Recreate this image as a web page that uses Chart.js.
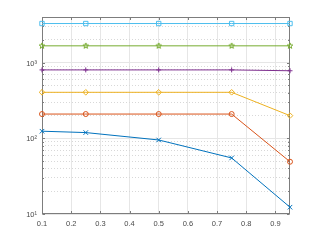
<!DOCTYPE html>
<html>
<head>
<meta charset="utf-8">
<script src="https://cdn.jsdelivr.net/npm/chart.js@4.4.1/dist/chart.umd.min.js"></script>
<style>
  html, body { margin: 0; padding: 0; background: #fff; overflow: hidden; }
  canvas { display: block; }
</style>
</head>
<body>
<canvas id="chart" width="321" height="241"></canvas>
<script>
  // Data
  const xValues = [0.1, 0.25, 0.5, 0.75, 0.95];
  const seriesBlue = [124, 119, 95, 55, 12.3];
  const seriesOrange = [209, 209, 209, 209, 49];
  const seriesYellow = [405, 405, 405, 405, 199];
  const seriesPurple = [800, 800, 800, 800, 780];
  const seriesGreen = [1664, 1664, 1664, 1664, 1664];
  const seriesCyan = [3280, 3280, 3280, 3280, 3280];

  // Tick labels
  const xTicks = [0.1, 0.2, 0.3, 0.4, 0.5, 0.6, 0.7, 0.8, 0.9];
  const yTickValues = [10, 100, 1000];
  const yTickLabels = ["10\u00B9", "10\u00B2", "10\u00B3"];

  const yMin = 10;
  const yMax = 4000;

  // every log tick (minor ones get dotted grid lines)
  const yAllTicks = [];
  for (let d = yMin; d < yMax; d *= 10) {
    for (let m = 1; m < 10; m++) {
      if (d * m <= yMax) yAllTicks.push(d * m);
    }
  }
  const isMajor = (v) => yTickValues.includes(v);

  // small outlined pentagram for the green series
  const pentagram = (color, r) => {
    const c = document.createElement("canvas");
    const s = Math.ceil(r * 2 + 2);
    c.width = c.height = s;
    const g = c.getContext("2d");
    g.strokeStyle = color;
    g.lineWidth = 1;
    g.beginPath();
    for (let i = 0; i < 10; i++) {
      const rr = i % 2 ? r * 0.42 : r;
      const a = -Math.PI / 2 + (i * Math.PI) / 5;
      const px = s / 2 + rr * Math.cos(a);
      const py = s / 2 + rr * Math.sin(a);
      i ? g.lineTo(px, py) : g.moveTo(px, py);
    }
    g.closePath();
    g.stroke();
    return c;
  };

  const makeSet = (values, color, style, radius) => ({
    data: values.map((v, i) => ({ x: xValues[i], y: v })),
    borderColor: color,
    backgroundColor: "rgba(0,0,0,0)",
    pointBorderColor: color,
    pointBackgroundColor: "rgba(0,0,0,0)",
    pointStyle: style,
    pointRadius: radius,
    pointBorderWidth: 1,
    borderWidth: 1,
    clip: false,
  });

  // Box with inward tick marks, like the original axes
  const frame = {
    id: "frame",
    beforeDatasetsDraw(chart) {
      const { ctx, chartArea: a, scales } = chart;
      const x = scales.x;
      const y = scales.y;
      const L = Math.round(a.left) + 0.5;
      const R = Math.round(a.right) - 0.5;
      const T = Math.round(a.top) + 0.5;
      const B = Math.round(a.bottom) - 0.5;
      ctx.save();
      ctx.strokeStyle = "#7d7d7d";
      ctx.lineWidth = 1;
      ctx.strokeRect(L, T, R - L, B - T);
      ctx.beginPath();
      x.ticks.forEach((t) => {
        const px = Math.round(x.getPixelForValue(t.value)) + 0.5;
        ctx.moveTo(px, B); ctx.lineTo(px, B - 2.5);
        ctx.moveTo(px, T); ctx.lineTo(px, T + 2.5);
      });
      y.ticks.forEach((t) => {
        const py = Math.round(y.getPixelForValue(t.value)) + 0.5;
        const len = isMajor(t.value) ? 2.5 : 1.5;
        ctx.moveTo(L, py); ctx.lineTo(L + len, py);
        ctx.moveTo(R, py); ctx.lineTo(R - len, py);
      });
      ctx.stroke();
      ctx.restore();
    },
  };

  const tickFont = { family: "Liberation Sans, Arial, sans-serif", size: 7.5 };

  new Chart(document.getElementById("chart"), {
    type: "line",
    data: {
      datasets: [
        makeSet(seriesBlue, "#0072BD", "crossRot", 3.2),
        makeSet(seriesOrange, "#D95319", "circle", 2.5),
        makeSet(seriesYellow, "#EDB120", "rectRot", 2.8),
        makeSet(seriesPurple, "#7E2F8E", "cross", 2.5),
        makeSet(seriesGreen, "#77AC30", pentagram("#77AC30", 3), 3),
        makeSet(seriesCyan, "#4DBEEE", "rect", 3.1),
      ],
    },
    options: {
      responsive: false,
      animation: false,
      devicePixelRatio: 1,
      layout: { padding: { top: 17, right: 31, left: 0, bottom: 0 } },
      plugins: {
        legend: { display: false },
        tooltip: { enabled: false },
      },
      scales: {
        x: {
          type: "linear",
          min: 0.1,
          max: 0.95,
          afterBuildTicks: (s) => { s.ticks = xTicks.map((v) => ({ value: v })); },
          afterFit: (s) => { s.height = 27; },
          grid: { color: "#e6e6e6", drawTicks: false },
          border: { display: false },
          ticks: {
            color: "#4a4a4a",
            font: tickFont,
            padding: 5,
            autoSkip: false,
            maxRotation: 0,
            callback: (v) => Number(v).toFixed(1),
          },
        },
        y: {
          type: "logarithmic",
          min: yMin,
          max: yMax,
          afterBuildTicks: (s) => { s.ticks = yAllTicks.map((v) => ({ value: v })); },
          afterFit: (s) => { s.width = 42; },
          grid: {
            drawTicks: false,
            color: (ctx) => (ctx.tick && isMajor(ctx.tick.value) ? "#e6e6e6" : "#d8d8d8"),
          },
          border: {
            display: false,
            dash: (ctx) => (ctx.tick && isMajor(ctx.tick.value) ? [] : [1, 2]),
          },
          ticks: {
            color: "#4a4a4a",
            font: tickFont,
            padding: 5,
            labelOffset: 1,
            autoSkip: false,
            callback: (v) => {
              const i = yTickValues.indexOf(v);
              return i >= 0 ? yTickLabels[i] : "";
            },
          },
        },
      },
    },
    plugins: [frame],
  });
</script>
</body>
</html>
